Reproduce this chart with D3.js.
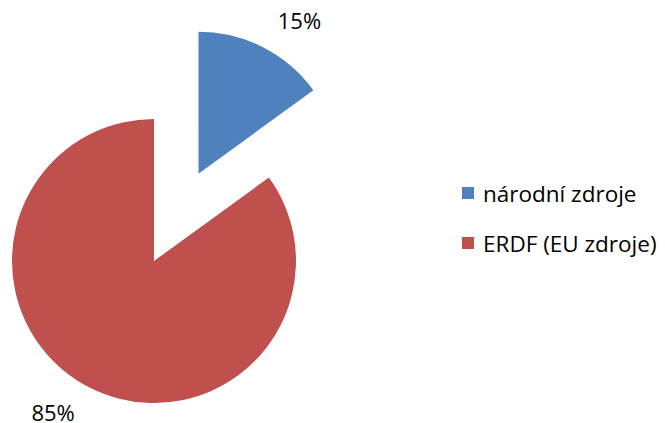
<!DOCTYPE html>
<html>
<head>
<meta charset="utf-8">
<script src="https://cdn.jsdelivr.net/npm/d3@7"></script>
<style>
  body { margin: 0; background: #fff; }
  text { font-family: "Open Sans", "Noto Sans", sans-serif; fill: #000; }
</style>
</head>
<body>
<div id="vis"></div>
<script>
var width = 665;
var height = 423;

// data
var categories = ["národní zdroje", "ERDF (EU zdroje)"];
var values = [15, 85];
var colors = ["#4F81BD", "#C0504D"];

function init(){

  var cx = 154, cy = 261, radius = 142;
  var explode = [98, 0];   // only the small slice is pulled out

  var chart = d3.select('#vis').append('svg')
        .attr("width", width)
        .attr("height", height);

  var color = d3.scaleOrdinal().domain(categories).range(colors);

  var pie = d3.pie().sort(null).value(function(d){ return d.value; });
  var data = pie(categories.map(function(c, i){ return {name: c, value: values[i], idx: i}; }));

  var arc = d3.arc().innerRadius(0).outerRadius(radius);
  // labels sit outside the rim, a little past the middle of the slice
  var labelArc = d3.arc().innerRadius(183).outerRadius(183);

  var g = chart.append("g").attr("transform", "translate(" + cx + "," + cy + ")");

  var slices = g.selectAll("g.slice")
      .data(data)
      .enter().append("g")
      .attr("class", "slice")
      .attr("transform", function(d){
          var mid = (d.startAngle + d.endAngle) / 2;
          var off = explode[d.data.idx];
          return "translate(" + (Math.sin(mid)*off) + "," + (-Math.cos(mid)*off) + ")";
      });

  slices.append("path")
      .attr("d", arc)
      .attr("fill", function(d){ return color(d.data.name); });

  var total = d3.sum(values);
  slices.append("text")
      .attr("transform", function(d){
          var shifted = {startAngle: d.startAngle + 0.113, endAngle: d.endAngle + 0.113};
          return "translate(" + labelArc.centroid(shifted) + ")";
      })
      .attr("text-anchor", "middle")
      .attr("dy", "0.35em")
      .style("font-size", "22px")
      .text(function(d){ return Math.round(d.data.value / total * 100) + "%"; });

  // legend
  var legend = chart.append("g").attr("transform", "translate(462,187)");
  var rows = legend.selectAll("g")
      .data(categories)
      .enter().append("g")
      .attr("transform", function(d, i){ return "translate(0," + (i*50) + ")"; });

  rows.append("rect")
      .attr("width", 12)
      .attr("height", 12)
      .attr("fill", function(d){ return color(d); });

  rows.append("text")
      .attr("x", 21)
      .attr("y", 15)
      .style("font-size", "22.5px")
      .text(function(d){ return d; });
}

init();
</script>
</body>
</html>
